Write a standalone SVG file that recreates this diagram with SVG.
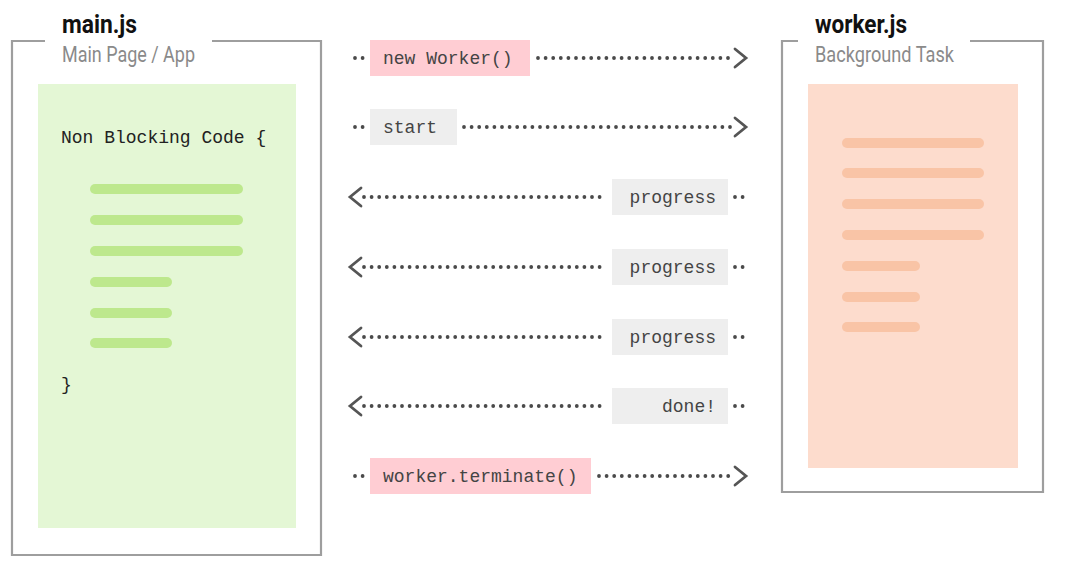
<svg xmlns="http://www.w3.org/2000/svg" width="1067" height="568" viewBox="0 0 1067 568">
<style>
.frame{fill:none;stroke:#9e9e9e;stroke-width:2.2}
.title{font-family:Roboto,"Liberation Sans",sans-serif;font-weight:bold;font-size:25px;fill:#111}
.sub{font-family:Roboto,"Liberation Sans",sans-serif;font-size:22px;fill:#8a8a8a}
.code{font-family:"Liberation Mono",monospace;font-size:18px;fill:#222}
.lbl{font-family:"Liberation Mono",monospace;font-size:18px;fill:#444}
.gbar{stroke:#bde88d;stroke-width:10;stroke-linecap:round}
.obar{stroke:#f9c4a6;stroke-width:10;stroke-linecap:round}
.dots{stroke:#4a4a4a;stroke-width:3.8;stroke-linecap:round;stroke-dasharray:0 7.6;fill:none}
.chev{stroke:#555;stroke-width:2.8;fill:none;stroke-linecap:round;stroke-linejoin:miter}
.pink{fill:#ffcdd3}
.gray{fill:#eeeeee}
</style>
<rect width="1067" height="568" fill="#fff"/>
<g id="main">
<path class="frame" d="M45,41 H12 V555 H321 V41 H212"/>
<text class="title" x="62" y="33" textLength="75" lengthAdjust="spacingAndGlyphs">main.js</text>
<text class="sub" x="62" y="62" textLength="133" lengthAdjust="spacingAndGlyphs">Main Page / App</text>
<rect x="38" y="84" width="258" height="444" fill="#e4f7d5"/>
<text class="code" x="61" y="143">Non Blocking Code {</text>
<line class="gbar" x1="95" y1="189" x2="238" y2="189"/>
<line class="gbar" x1="95" y1="220" x2="238" y2="220"/>
<line class="gbar" x1="95" y1="251" x2="238" y2="251"/>
<line class="gbar" x1="95" y1="282" x2="167" y2="282"/>
<line class="gbar" x1="95" y1="313" x2="167" y2="313"/>
<line class="gbar" x1="95" y1="343" x2="167" y2="343"/>
<text class="code" x="61" y="390">}</text>
</g>
<g id="worker">
<path class="frame" d="M798,41 H782 V492 H1043 V41 H970"/>
<text class="title" x="815" y="33" textLength="92" lengthAdjust="spacingAndGlyphs">worker.js</text>
<text class="sub" x="815" y="62" textLength="139" lengthAdjust="spacingAndGlyphs">Background Task</text>
<rect x="808" y="84" width="210" height="384" fill="#fddccd"/>
<line class="obar" x1="847" y1="143" x2="979" y2="143"/>
<line class="obar" x1="847" y1="173" x2="979" y2="173"/>
<line class="obar" x1="847" y1="204" x2="979" y2="204"/>
<line class="obar" x1="847" y1="235" x2="979" y2="235"/>
<line class="obar" x1="847" y1="266" x2="915" y2="266"/>
<line class="obar" x1="847" y1="297" x2="915" y2="297"/>
<line class="obar" x1="847" y1="327" x2="915" y2="327"/>
</g>
<g id="connectors">
<line class="dots" x1="355" y1="58" x2="363" y2="58"/>
<line class="dots" x1="538" y1="58" x2="730" y2="58"/>
<path class="chev" d="M735,49 L746,58 L735,67"/>
<line class="dots" x1="355" y1="127" x2="363" y2="127"/>
<line class="dots" x1="464" y1="127" x2="730" y2="127"/>
<path class="chev" d="M735,118 L746,127 L735,136"/>
<path class="chev" d="M361,188 L350,197 L361,206"/>
<line class="dots" x1="364" y1="197" x2="606" y2="197"/>
<line class="dots" x1="735" y1="197" x2="743" y2="197"/>
<path class="chev" d="M361,258 L350,267 L361,276"/>
<line class="dots" x1="364" y1="267" x2="606" y2="267"/>
<line class="dots" x1="735" y1="267" x2="743" y2="267"/>
<path class="chev" d="M361,328 L350,337 L361,346"/>
<line class="dots" x1="364" y1="337" x2="606" y2="337"/>
<line class="dots" x1="735" y1="337" x2="743" y2="337"/>
<path class="chev" d="M361,397 L350,406 L361,415"/>
<line class="dots" x1="364" y1="406" x2="606" y2="406"/>
<line class="dots" x1="735" y1="406" x2="743" y2="406"/>
<line class="dots" x1="355" y1="476" x2="363" y2="476"/>
<line class="dots" x1="599" y1="476" x2="730" y2="476"/>
<path class="chev" d="M735,467 L746,476 L735,485"/>
</g>
<g id="msg-new-worker">
<rect class="pink" x="370" y="40" width="160" height="36"/>
<text class="lbl" x="383" y="64">new Worker()</text>
</g>
<g id="msg-start">
<rect class="gray" x="370" y="109" width="87" height="36"/>
<text class="lbl" x="383" y="133">start</text>
</g>
<g id="msg-progress-1">
<rect class="gray" x="612" y="179" width="116" height="36"/>
<text class="lbl" x="716" y="203" text-anchor="end">progress</text>
</g>
<g id="msg-progress-2">
<rect class="gray" x="612" y="249" width="116" height="36"/>
<text class="lbl" x="716" y="273" text-anchor="end">progress</text>
</g>
<g id="msg-progress-3">
<rect class="gray" x="612" y="319" width="116" height="36"/>
<text class="lbl" x="716" y="343" text-anchor="end">progress</text>
</g>
<g id="msg-done">
<rect class="gray" x="612" y="388" width="116" height="36"/>
<text class="lbl" x="716" y="412" text-anchor="end">done!</text>
</g>
<g id="msg-terminate">
<rect class="pink" x="370" y="458" width="221" height="36"/>
<text class="lbl" x="383" y="482">worker.terminate()</text>
</g>
</svg>
